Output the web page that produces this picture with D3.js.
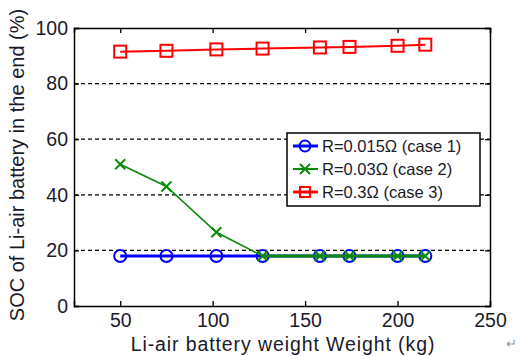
<!DOCTYPE html>
<html lang="en">
<style>
body { margin: 0; background: white; }
svg { font-family: "Liberation Sans", Arial, sans-serif; }
.tick text { fill: #1a1a2a; font-size: 19.5px; }
.grid line { stroke: #000; stroke-dasharray: 4,3; stroke-width: 1.3; }
</style>
<svg width="524" height="356"></svg>
<script src="https://d3js.org/d3.v7.min.js"></script>
<script>
var weights = [50, 75, 102, 127, 158, 174, 200, 215];
var case1 = [18, 18, 18, 18, 18, 18, 18, 18];
var case2 = [51, 43, 26.5, 18, 18, 18, 18, 18];
var case3 = [91.5, 91.8, 92.3, 92.6, 93.0, 93.2, 93.6, 94.0];
var xTicks = [50, 100, 150, 200, 250];
var yTicks = [0, 20, 40, 60, 80, 100];
var seriesNames = ["R=0.015\u03a9 (case 1)", "R=0.03\u03a9 (case 2)", "R=0.3\u03a9 (case 3)"];

var svg = d3.select("svg");
var plotL = 74, plotR = 490, plotT = 28, plotB = 306;

var x = d3.scaleLinear().domain([25, 250]).range([plotL, plotR]);
var y = d3.scaleLinear().domain([0, 100]).range([plotB, plotT]);

// dashed grid
svg.append("g")
    .attr("class", "grid")
    .selectAll("line")
    .data([20, 40, 60, 80])
    .enter().append("line")
    .attr("x1", plotL).attr("x2", plotR)
    .attr("y1", function(d) { return y(d); })
    .attr("y2", function(d) { return y(d); });

// axes
svg.append("g")
    .attr("transform", "translate(0," + plotB + ")")
    .call(d3.axisBottom(x).tickValues(xTicks).tickSize(-5).tickPadding(7));
svg.append("g")
    .attr("transform", "translate(" + plotL + ",0)")
    .call(d3.axisLeft(y).tickValues(yTicks).tickSize(-5).tickPadding(6));
svg.append("g")
    .attr("transform", "translate(0," + plotT + ")")
    .call(d3.axisTop(x).tickValues(xTicks).tickSize(-5).tickFormat(""));
svg.append("g")
    .attr("transform", "translate(" + plotR + ",0)")
    .call(d3.axisRight(y).tickValues(yTicks).tickSize(-5).tickFormat(""));
svg.selectAll(".domain").attr("stroke", "#000").attr("stroke-width", 1.5);
svg.selectAll(".tick line").attr("stroke", "#000").attr("stroke-width", 1.3);

var line = d3.line()
    .x(function(d) { return x(d[0]); })
    .y(function(d) { return y(d[1]); });

function pairs(vals) { return weights.map(function(w, i) { return [w, vals[i]]; }); }

// case 1 blue circles
svg.append("path").datum(pairs(case1))
    .attr("fill", "none").attr("stroke", "#0000ff").attr("stroke-width", 3).attr("d", line);
svg.append("g").selectAll("circle").data(pairs(case1)).enter().append("circle")
    .attr("cx", function(d) { return x(d[0]); })
    .attr("cy", function(d) { return y(d[1]); })
    .attr("r", 6).attr("fill", "none").attr("stroke", "#0000ff").attr("stroke-width", 2);

// case 2 green x
svg.append("path").datum(pairs(case2))
    .attr("fill", "none").attr("stroke", "#0a8a0a").attr("stroke-width", 1.6).attr("d", line);
svg.append("path").datum(pairs(case2).slice(3))
    .attr("fill", "none").attr("stroke", "#0a8a0a").attr("stroke-width", 3).attr("d", line);
svg.append("g").selectAll("path").data(pairs(case2)).enter().append("path")
    .attr("transform", function(d) { return "translate(" + x(d[0]) + "," + y(d[1]) + ")"; })
    .attr("d", "M-5,-5L5,5M-5,5L5,-5")
    .attr("stroke", "#0a8a0a").attr("stroke-width", 2);

// case 3 red squares
svg.append("path").datum(pairs(case3))
    .attr("fill", "none").attr("stroke", "#ff0000").attr("stroke-width", 2).attr("d", line);
svg.append("g").selectAll("rect").data(pairs(case3)).enter().append("rect")
    .attr("x", function(d) { return x(d[0]) - 6; })
    .attr("y", function(d) { return y(d[1]) - 6; })
    .attr("width", 12).attr("height", 12)
    .attr("fill", "none").attr("stroke", "#ff0000").attr("stroke-width", 2);

// legend
var lg = svg.append("g").attr("transform", "translate(287,133)");
lg.append("rect").attr("width", 193).attr("height", 73)
    .attr("fill", "white").attr("stroke", "#000").attr("stroke-width", 1.5);
var colors = ["#0000ff", "#0a8a0a", "#ff0000"];
seriesNames.forEach(function(name, i) {
    var cy = 13 + i * 23;
    var row = lg.append("g").attr("transform", "translate(0," + cy + ")");
    row.append("line").attr("x1", 6).attr("x2", 31).attr("y1", 0).attr("y2", 0)
        .attr("stroke", colors[i]).attr("stroke-width", i == 1 ? 2 : 3);
    if (i == 0) {
        row.append("circle").attr("cx", 18).attr("cy", 0).attr("r", 5.5)
            .attr("fill", "none").attr("stroke", colors[i]).attr("stroke-width", 2);
    } else if (i == 1) {
        row.append("path").attr("transform", "translate(18,0)")
            .attr("d", "M-5,-5L5,5M-5,5L5,-5").attr("stroke", colors[i]).attr("stroke-width", 2);
    } else {
        row.append("rect").attr("x", 13).attr("y", -5).attr("width", 10).attr("height", 10)
            .attr("fill", "none").attr("stroke", colors[i]).attr("stroke-width", 2);
    }
    row.append("text").attr("x", 35).attr("y", 6)
        .attr("font-size", "16.5px").attr("fill", "#1a1a2a")
        .text(name);
});

// axis labels
svg.append("text")
    .attr("x", 283).attr("y", 351)
    .attr("text-anchor", "middle").attr("font-size", "19.5px").attr("fill", "#1a1a2a")
    .attr("letter-spacing", "0.9px")
    .text("Li-air battery weight Weight (kg)");
svg.append("text")
    .attr("transform", "translate(24,165) rotate(-90)")
    .attr("text-anchor", "middle").attr("font-size", "20px").attr("fill", "#1a1a2a")
    .text("SOC of Li-air battery in the end (%)");
svg.append("text")
    .attr("x", 506).attr("y", 348)
    .attr("font-size", "13px").attr("fill", "#999")
    .text("\u21b5");
</script>
</html>
